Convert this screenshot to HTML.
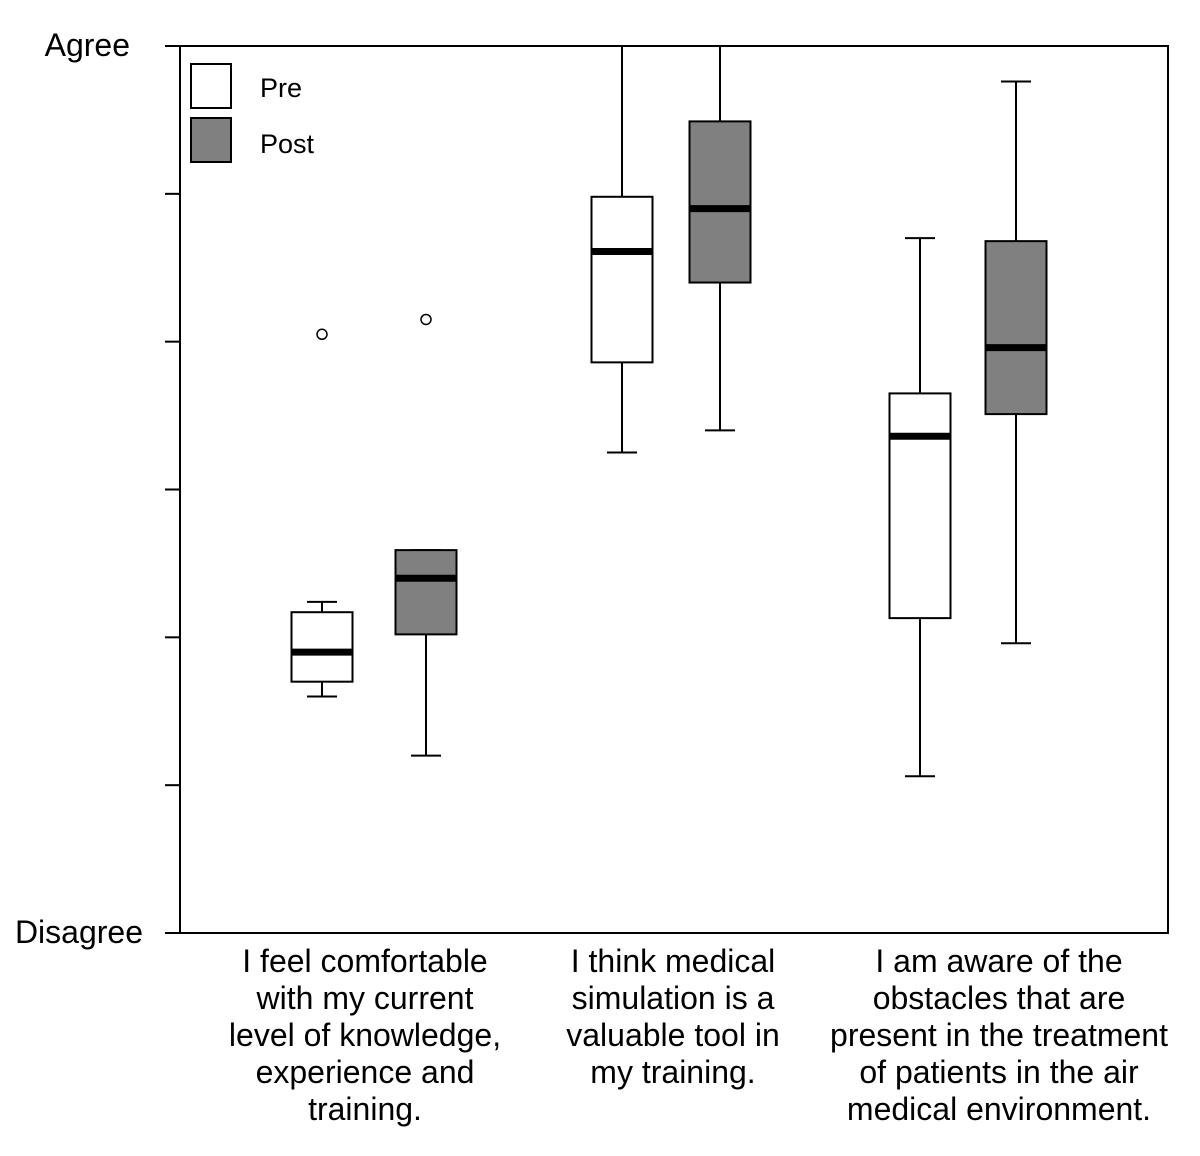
<!DOCTYPE html>
<html><head><meta charset="utf-8"><style>
html,body{margin:0;padding:0;background:#fff;}
svg{display:block;font-family:"Liberation Sans",Arial,sans-serif;}
</style></head><body>
<svg id="chart" width="1200" height="1156" viewBox="0 0 1200 1156" xmlns="http://www.w3.org/2000/svg">
<g id="plot"></g>
</svg>
<script>
const categories = [
  ["I feel comfortable","with my current","level of knowledge,","experience and","training."],
  ["I think medical","simulation is a","valuable tool in","my training."],
  ["I am aware of the","obstacles that are","present in the treatment","of patients in the air","medical environment."]
];
const seriesNames = ["Pre","Post"];
// [whiskerLow, q1, median, q3, whiskerHigh] on 0 (Disagree) - 6 (Agree) scale
const preStats = [[1.60,1.70,1.90,2.17,2.24],[3.25,3.86,4.61,4.98,6.00],[1.06,2.13,3.36,3.65,4.70]];
const postStats = [[1.20,2.02,2.40,2.59,2.59],[3.40,4.40,4.90,5.49,6.00],[1.96,3.51,3.96,4.68,5.76]];
const preOutliers = [[4.05],[],[]];
const postOutliers = [[4.15],[],[]];
const yTicks = [0,1,2,3,4,5,6];
const yLabels = {0:"Disagree",6:"Agree"};

const NS="http://www.w3.org/2000/svg";
const g=document.getElementById('plot');
const L=180,R=1168,T=46,B=933,yMin=0,yMax=6;
const y=v=>B-(v-yMin)/(yMax-yMin)*(B-T);
const boxCenters=[[322,426],[622,720],[920,1016]];
const x=(gi,si)=>boxCenters[gi][si];
function mk(tag,attrs,parent){const e=document.createElementNS(NS,tag);for(const k in attrs)e.setAttribute(k,attrs[k]);(parent||g).appendChild(e);return e;}

let fr=mk('rect',{x:L,y:T,width:R-L,height:B-T,fill:'none',stroke:'#000','stroke-width':2});


yTicks.forEach(t=>{
  const l=mk('line',{x1:165,x2:L,y1:y(t),y2:y(t),stroke:'#000','stroke-width':2});
  
  
  if(yLabels[t]){
    const tx=mk('text',{x:t===0?143:130,y:y(t)+10,'text-anchor':'end','font-size':32});
    tx.textContent=yLabels[t];
    
    
  }
});

function drawBox(gi,si,s,outs){
  const cx=x(gi,si),w=61,cw=30;
  const grp=mk('g',{});
  
  
  const st={stroke:'#000','stroke-width':2};
  mk('line',Object.assign({x1:cx,x2:cx,y1:y(s[3]),y2:y(s[4])},st),grp);
  mk('line',Object.assign({x1:cx,x2:cx,y1:y(s[1]),y2:y(s[0])},st),grp);
  if(s[4]<6) mk('line',Object.assign({x1:cx-cw/2,x2:cx+cw/2,y1:y(s[4]),y2:y(s[4])},st),grp);
  mk('line',Object.assign({x1:cx-cw/2,x2:cx+cw/2,y1:y(s[0]),y2:y(s[0])},st),grp);
  mk('rect',Object.assign({x:cx-w/2,y:y(s[3]),width:w,height:y(s[1])-y(s[3]),fill:si===0?'#fff':'#808080'},st),grp);
  mk('line',{x1:cx-w/2,x2:cx+w/2,y1:y(s[2]),y2:y(s[2]),stroke:'#000','stroke-width':7},grp);
  outs.forEach(o=>mk('circle',{cx:cx,cy:y(o),r:5,fill:'#fff',stroke:'#000','stroke-width':1.5},grp));
}
for(let i=0;i<3;i++){drawBox(i,0,preStats[i],preOutliers[i]);drawBox(i,1,postStats[i],postOutliers[i]);}

[["#fff",64,88],["#808080",118,144]].forEach((d,i)=>{
  const r=mk('rect',{x:191,y:d[1],width:40,height:44,fill:d[0],stroke:'#000','stroke-width':2});
  
  
  const t=mk('text',{x:260,y:d[2]+9,'font-size':27});
  t.textContent=seriesNames[i];
  
  
});

const labelX=[365,673,999];
categories.forEach((lines,i)=>{
  const t=mk('text',{x:labelX[i],y:972,'text-anchor':'middle','font-size':32});
  
  
  lines.forEach((ln,j)=>{const s=mk('tspan',{x:labelX[i],dy:j?37:0},t);s.textContent=ln;});
});
</script>
</body></html>
